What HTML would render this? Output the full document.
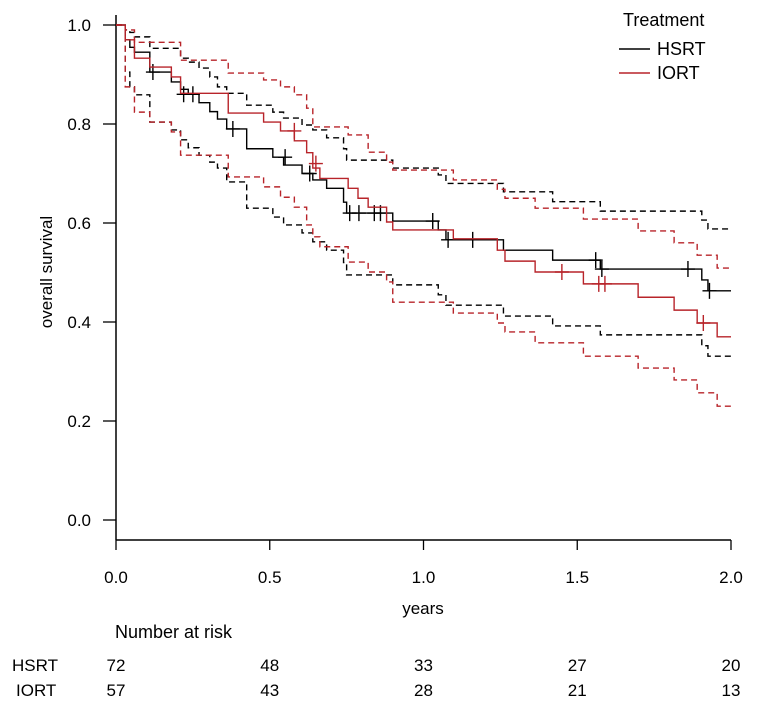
<!DOCTYPE html>
<html><head><meta charset="utf-8">
<style>
html,body{margin:0;padding:0;background:#fff;}
svg{display:block;font-family:"Liberation Sans",Arial,sans-serif;}
</style></head>
<body>
<svg id="chart" width="762" height="714" viewBox="0 0 762 714" xmlns="http://www.w3.org/2000/svg"></svg>
<script>
// ---- data ----
const xTicks = [0, 0.5, 1.0, 1.5, 2.0];
const xTickLabels = ["0.0","0.5","1.0","1.5","2.0"];
const yTicks = [0, 0.2, 0.4, 0.6, 0.8, 1.0];
const yTickLabels = ["0.0","0.2","0.4","0.6","0.8","1.0"];

const hsrtTimes = [0,0.03,0.045,0.06,0.11,0.18,0.21,0.235,0.27,0.305,0.33,0.36,0.425,0.51,0.545,0.605,0.64,0.685,0.74,0.75,0.9,1.048,1.073,1.26,1.42,1.575,1.905,1.925];
const hsrtSurv  = [1,0.97,0.955,0.945,0.905,0.885,0.87,0.86,0.843,0.825,0.81,0.79,0.75,0.733,0.717,0.70,0.687,0.67,0.642,0.62,0.604,0.586,0.566,0.545,0.525,0.507,0.485,0.463];
const hsrtUpper = [1,0.99,0.985,0.976,0.953,0.953,0.933,0.925,0.913,0.895,0.875,0.862,0.838,0.824,0.812,0.798,0.788,0.772,0.75,0.727,0.711,0.697,0.68,0.663,0.643,0.624,0.606,0.588];
const hsrtLower = [1,0.905,0.875,0.859,0.804,0.788,0.768,0.752,0.737,0.723,0.711,0.683,0.63,0.612,0.596,0.58,0.562,0.545,0.52,0.495,0.475,0.455,0.434,0.412,0.392,0.374,0.352,0.331];
const hsrtCensT = [0.12,0.22,0.25,0.38,0.55,0.63,0.76,0.79,0.84,0.86,1.03,1.08,1.16,1.56,1.58,1.86,1.93];
const hsrtCensS = [0.905,0.86,0.86,0.79,0.733,0.70,0.62,0.62,0.62,0.62,0.604,0.566,0.566,0.525,0.507,0.507,0.463];

const iortTimes = [0,0.03,0.06,0.11,0.18,0.21,0.365,0.48,0.535,0.58,0.62,0.64,0.663,0.755,0.787,0.82,0.88,0.9,1.097,1.24,1.265,1.363,1.52,1.698,1.815,1.89,1.955];
const iortSurv  = [1,0.97,0.933,0.915,0.895,0.862,0.822,0.804,0.786,0.766,0.742,0.711,0.69,0.67,0.65,0.632,0.602,0.586,0.568,0.545,0.523,0.501,0.477,0.45,0.424,0.398,0.37];
const iortUpper = [1,0.99,0.965,0.965,0.965,0.929,0.903,0.889,0.875,0.859,0.832,0.794,0.794,0.778,0.778,0.743,0.723,0.707,0.687,0.668,0.65,0.63,0.608,0.584,0.56,0.535,0.509];
const iortLower = [1,0.875,0.824,0.804,0.784,0.737,0.693,0.673,0.652,0.632,0.596,0.572,0.552,0.521,0.521,0.501,0.481,0.44,0.418,0.398,0.38,0.358,0.331,0.307,0.283,0.257,0.23];
const iortCensT = [0.58,0.65,1.45,1.57,1.59,1.91];
const iortCensS = [0.786,0.72,0.501,0.477,0.477,0.398];

const riskGroups = ["HSRT","IORT"];
const riskHSRT = [72,48,33,27,20];
const riskIORT = [57,43,28,21,13];

// ---- axes ----
const X0=116, X1=731, Y0=520, Y1=25;
const xs = t => X0 + (t-0)/(2-0)*(X1-X0);
const ys = s => Y0 - s*(Y0-Y1);
const svg = document.getElementById('chart');
const NS='http://www.w3.org/2000/svg';
function mk(tag, attrs, parent){
  const e=document.createElementNS(NS,tag);
  for(const k in attrs) e.setAttribute(k,attrs[k]);
  (parent||svg).appendChild(e); return e;
}
function stepPath(T,S,tEnd){
  let d='M'+xs(T[0])+','+ys(S[0]);
  for(let i=1;i<T.length;i++){ d+=' H'+xs(T[i])+' V'+ys(S[i]); }
  d+=' H'+xs(tEnd);
  return d;
}
const FS=17;
let e;
e=mk('line',{x1:X0,y1:15,x2:X0,y2:540,stroke:'#000','stroke-width':1.5});
 
e=mk('line',{x1:X0,y1:540,x2:X1,y2:540,stroke:'#000','stroke-width':1.5});
 

yTicks.forEach((v,i)=>{
  const t=mk('line',{x1:103,y1:ys(v),x2:X0,y2:ys(v),stroke:'#000','stroke-width':1.3});
   
  const l=mk('text',{x:91,y:ys(v)+6,'text-anchor':'end','font-size':FS,fill:'#000'});
  l.textContent=yTickLabels[i];
   
});
xTicks.forEach((v,i)=>{
  const t=mk('line',{x1:xs(v),y1:540,x2:xs(v),y2:550,stroke:'#000','stroke-width':1.3});
   
  const l=mk('text',{x:xs(v),y:583,'text-anchor':'middle','font-size':FS,fill:'#000'});
  l.textContent=xTickLabels[i];
   
});
e=mk('text',{x:423,y:614,'text-anchor':'middle','font-size':FS});
e.textContent='years';
 
e=mk('text',{x:52,y:272,'text-anchor':'middle','font-size':FS,transform:'rotate(-90 52 272)'});
e.textContent='overall survival';
 

const RED='#b8242a';
function series(T,S,U,L,CT,CS,col,name){
  const g=mk('g',{});
   
  let p=mk('path',{d:stepPath(T,U,2),fill:'none',stroke:col,'stroke-width':1.4,'stroke-dasharray':'6,4'},g);
   
  p=mk('path',{d:stepPath(T,L,2),fill:'none',stroke:col,'stroke-width':1.4,'stroke-dasharray':'6,4'},g);
   
  p=mk('path',{d:stepPath(T,S,2),fill:'none',stroke:col,'stroke-width':1.4},g);
   
  CT.forEach((t,i)=>{
    const c=mk('path',{d:'M'+(xs(t)-7)+','+ys(CS[i])+' h14 M'+xs(t)+','+(ys(CS[i])-8)+' v16',stroke:col,'stroke-width':1.4},g);
     
  });
}
series(hsrtTimes,hsrtSurv,hsrtUpper,hsrtLower,hsrtCensT,hsrtCensS,'#000','hsrt');
series(iortTimes,iortSurv,iortUpper,iortLower,iortCensT,iortCensS,RED,'iort');

const lg=mk('g',{});
 
e=mk('text',{x:623,y:26,'font-size':18},lg); e.textContent='Treatment';
 
[['HSRT','#000',49],['IORT',RED,73]].forEach(r=>{
  const ln=mk('line',{x1:619,y1:r[2],x2:650,y2:r[2],stroke:r[1],'stroke-width':1.4},lg);
   
  const tx=mk('text',{x:657,y:r[2]+6,'font-size':18},lg); tx.textContent=r[0];
   
});

e=mk('text',{x:115,y:638,'font-size':18}); e.textContent='Number at risk';
 
[[riskHSRT,671],[riskIORT,696]].forEach((r,j)=>{
  const lab=mk('text',{x:j==0?12:16,y:r[1],'font-size':FS}); lab.textContent=riskGroups[j];
   
  r[0].forEach((n,i)=>{
    const c=mk('text',{x:xs(xTicks[i]),y:r[1],'font-size':FS,'text-anchor':'middle'}); c.textContent=n;
     
  });
});
</script>
</body></html>
